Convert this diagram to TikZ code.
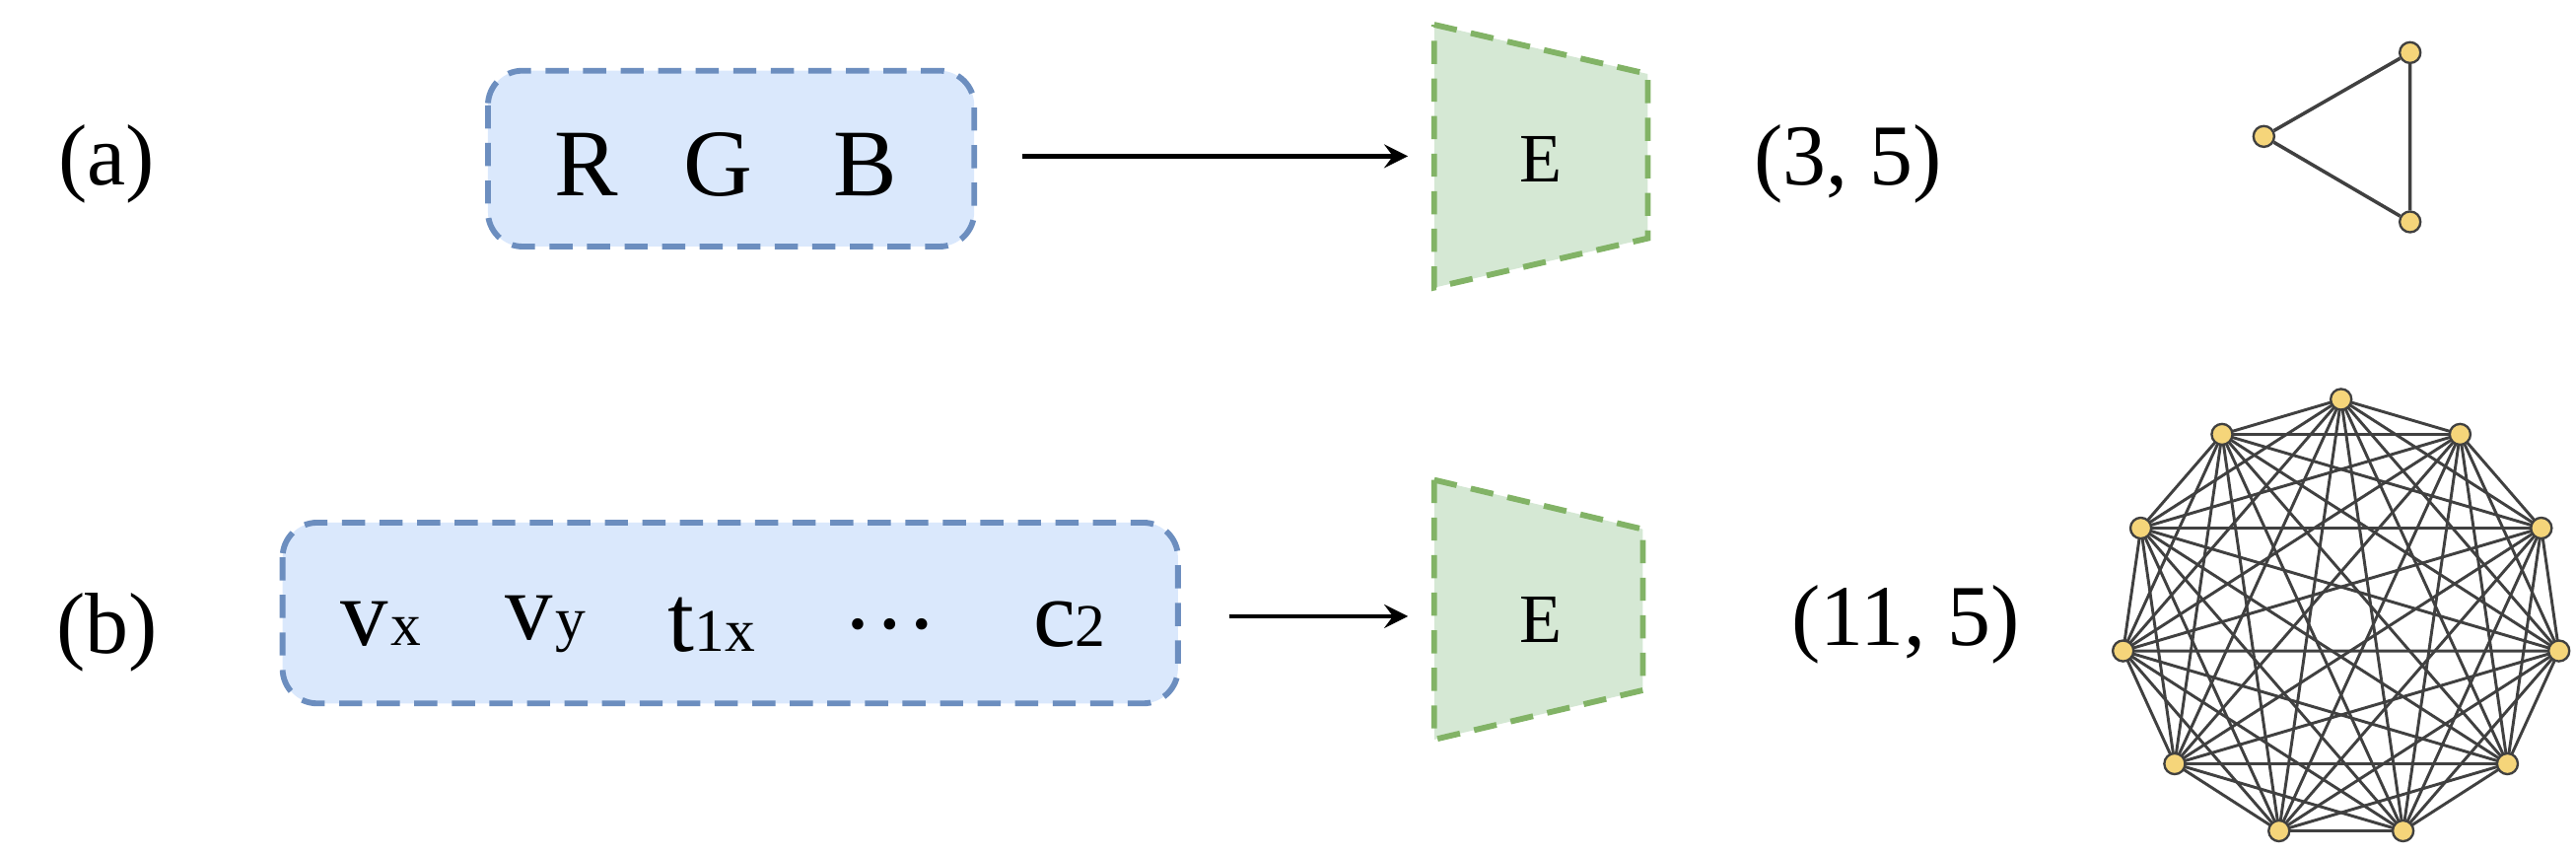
\documentclass[tikz,border=0pt]{standalone}
\usepackage{fontspec}
\setmainfont{Liberation Serif}
\definecolor{bfill}{HTML}{DAE8FC}
\definecolor{bdraw}{HTML}{6C8EBF}
\definecolor{gfill}{HTML}{D5E8D4}
\definecolor{gdraw}{HTML}{82B366}
\definecolor{vfill}{HTML}{F5D57A}
\begin{document}
\begin{tikzpicture}[x=0.01cm,y=-0.01cm,
 inbox/.style={draw=bdraw, fill=bfill, line width=1pt, rounded corners=6pt, dash pattern=on 4pt off 2.5pt},
 enc/.style={draw=gdraw, fill=gfill, line width=1pt, dash pattern=on 4pt off 2.5pt},
 lab/.style={font=\fontsize{15}{17}\selectfont},
 big/.style={font=\fontsize{16.5}{19}\selectfont},
 vert/.style={circle, draw=black!75, fill=vfill, inner sep=0pt, minimum size=3.6pt, line width=0.4pt},
 edge/.style={draw=black!75, line width=0.6pt},
 arr/.style={-stealth, line width=0.8pt}]
\useasboundingbox (0,0) rectangle (1568,520);
% (a)
\node[lab] (la) at (65,100) {(a)};
\draw[inbox] (297,43) rectangle (593,150);
\node[big] (r) at (357,100) {R};
\node[big] (g) at (437,100) {G};
\node[big] (b) at (527,100) {B};
\coordinate (a1) at (622,95);
\coordinate (a2) at (857,95);
\draw[arr] (a1) -- (a2);
\draw[enc] (873,15) -- (1003,45) -- (1003,145) -- (873,175) -- cycle;
\node[font=\fontsize{12}{14}\selectfont] (ea) at (938,97) {E};
\node[lab] (na) at (1125,100) {(3, 5)};
\node[vert] (t1) at (1467,32) {};
\node[vert] (t2) at (1378,83) {};
\node[vert] (t3) at (1467,135) {};
\draw[edge] (t1) -- (t2) -- (t3) -- (t1);
% (b)
\node[lab] (lb) at (65,385) {(b)};
\draw[inbox] (172,318) rectangle (717,428);
\node[big] (vx) at (232,380) {v\kern0.5pt{\fontsize{10.5}{12}\selectfont x}};
\node[big] (vy) at (332,380) {v\kern0.5pt{\fontsize{10.5}{12}\selectfont y}};
\node[big] (tx) at (433,380) {t{\fontsize{10.5}{12}\selectfont 1x}};
\node[big] (dd) at (542,380) {\ldots};
\node[big] (c2) at (651,380) {c{\fontsize{10.5}{12}\selectfont 2}};
\coordinate (b1) at (748,375);
\coordinate (b2) at (857,375);
\draw[arr] (b1) -- (b2);
\draw[enc] (873,292) -- (1000,322) -- (1000,420) -- (873,450) -- cycle;
\node[font=\fontsize{12}{14}\selectfont] (eb) at (938,377) {E};
\node[lab] (nb) at (1160,380) {(11, 5)};
\foreach \i in {0,...,10} {
  \coordinate (p\i) at ({1425+134*sin(360*\i/11)},{377-134*cos(360*\i/11)});
}
\foreach \i in {0,...,10} {
  \foreach \j in {0,...,10} {
    \ifnum\i<\j \draw[edge, line width=0.5pt] (p\i) -- (p\j); \fi
  }
}
\foreach \i in {0,...,10} { \node[vert] (k\i) at (p\i) {}; }
\end{tikzpicture}
\end{document}
